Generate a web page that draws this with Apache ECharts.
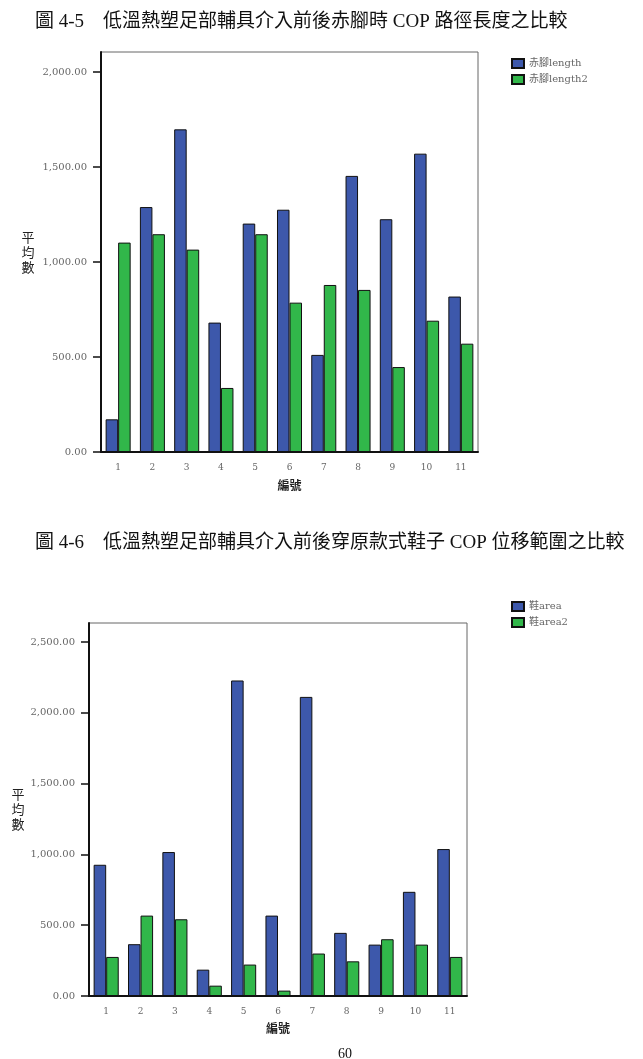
<!DOCTYPE html>
<html>
<head>
<meta charset="utf-8">
<script src="https://cdn.jsdelivr.net/npm/echarts@6/dist/echarts.min.js"></script>
<style>
  html, body { margin: 0; padding: 0; background: #fff; }
  #chart { width: 643px; height: 1059px; }
</style>
</head>
<body>
<div id="chart"></div>
<script>
// 編號 1..11
const categories = ['1', '2', '3', '4', '5', '6', '7', '8', '9', '10', '11'];

// 圖 4-5 赤腳 COP 路徑長度
const barefootLength = [172, 1289, 1698, 681, 1202, 1275, 511, 1453, 1225, 1570, 818];
const barefootLength2 = [1102, 1146, 1065, 337, 1146, 786, 879, 853, 447, 691, 570];

// 圖 4-6 穿鞋 COP 位移範圍
const shoeArea = [927, 366, 1017, 186, 2229, 568, 2113, 446, 363, 736, 1038];
const shoeArea2 = [276, 568, 542, 73, 222, 38, 300, 245, 401, 363, 276];

const ticks1 = [0, 500, 1000, 1500, 2000];
const ticks2 = [0, 500, 1000, 1500, 2000, 2500];

const BLUE = '#3d58ab';
const GREEN = '#31b74a';
const SERIF = '"DejaVu Serif", "Liberation Serif", serif';
const TITLE_FONT = '"Liberation Serif", "Noto Sans CJK TC", serif';
const SMALL_FONT = '"DejaVu Serif", "Noto Sans CJK TC", serif';

function fmt(v) {
    return v.toLocaleString('en-US', { minimumFractionDigits: 2, maximumFractionDigits: 2 });
}

function xAxis(gridIndex, nameGap) {
    return {
        type: 'category',
        gridIndex: gridIndex,
        data: categories,
        name: '編號',
        nameLocation: 'middle',
        nameGap: nameGap,
        nameTextStyle: { fontFamily: '"Noto Sans CJK TC"', fontSize: 12, fontWeight: 'bold', color: '#222' },
        axisLine: { lineStyle: { color: '#111', width: 2 } },
        axisTick: { alignWithLabel: true, length: 8, lineStyle: { color: '#111', width: 2 } },
        axisLabel: { margin: 11, fontFamily: SERIF, fontSize: 9, color: '#666' }
    };
}

function yAxis(gridIndex, max, ticks, nameGap) {
    return {
        type: 'value',
        gridIndex: gridIndex,
        min: 0,
        max: max,
        interval: 500,
        name: '平\n均\n數',
        nameLocation: 'middle',
        nameRotate: 0,
        nameGap: nameGap,
        nameTextStyle: { fontFamily: '"Noto Sans CJK TC"', fontSize: 13, lineHeight: 15, color: '#222', align: 'center' },
        splitLine: { show: false },
        axisLine: { show: true, lineStyle: { color: '#111', width: 2 } },
        axisTick: { show: true, length: 8, customValues: ticks, lineStyle: { color: '#111', width: 1.5 } },
        axisLabel: { margin: 14, customValues: ticks, fontFamily: SERIF, fontSize: 10, color: '#666', formatter: fmt }
    };
}

function bar(name, data, color, idx) {
    return {
        type: 'bar',
        name: name,
        data: data,
        xAxisIndex: idx,
        yAxisIndex: idx,
        barGap: '0%',
        barCategoryGap: '27%',
        itemStyle: { color: color, borderColor: '#111', borderWidth: 1 }
    };
}

const legendBase = {
    orient: 'vertical',
    left: 506,
    itemWidth: 12,
    itemHeight: 9,
    itemGap: 5,
    icon: 'rect',
    textStyle: { fontFamily: SMALL_FONT, fontSize: 10, color: '#666' }
};

const option = {
    animation: false,
    title: [
        {
            text: '圖 4-5　低溫熱塑足部輔具介入前後赤腳時 COP 路徑長度之比較',
            left: 30, top: 8,
            textStyle: { fontFamily: TITLE_FONT, fontSize: 19, fontWeight: 'normal', color: '#111' }
        },
        {
            text: '圖 4-6　低溫熱塑足部輔具介入前後穿原款式鞋子 COP 位移範圍之比較',
            left: 30, top: 529,
            textStyle: { fontFamily: TITLE_FONT, fontSize: 19, fontWeight: 'normal', color: '#111' }
        },
        {
            text: '60',
            left: 333, top: 1042,
            textStyle: { fontFamily: '"Liberation Serif", serif', fontSize: 14, fontWeight: 'normal', color: '#111' }
        }
    ],
    legend: [
        Object.assign({}, legendBase, { top: 53, data: ['赤腳length', '赤腳length2'] }),
        Object.assign({}, legendBase, { top: 596, data: ['鞋area', '鞋area2'] })
    ],
    grid: [
        { left: 101, top: 52, width: 377, height: 400, show: true, borderColor: '#666', borderWidth: 1 },
        { left: 89, top: 623, width: 378, height: 373, show: true, borderColor: '#666', borderWidth: 1 }
    ],
    xAxis: [xAxis(0, 27), xAxis(1, 26)],
    yAxis: [yAxis(0, 2105, ticks1, 73), yAxis(1, 2635, ticks2, 61)],
    series: [
        bar('赤腳length', barefootLength, BLUE, 0),
        bar('赤腳length2', barefootLength2, GREEN, 0),
        bar('鞋area', shoeArea, BLUE, 1),
        bar('鞋area2', shoeArea2, GREEN, 1)
    ]
};

const chart = echarts.init(document.getElementById('chart'));
chart.setOption(option);
</script>
</body>
</html>
